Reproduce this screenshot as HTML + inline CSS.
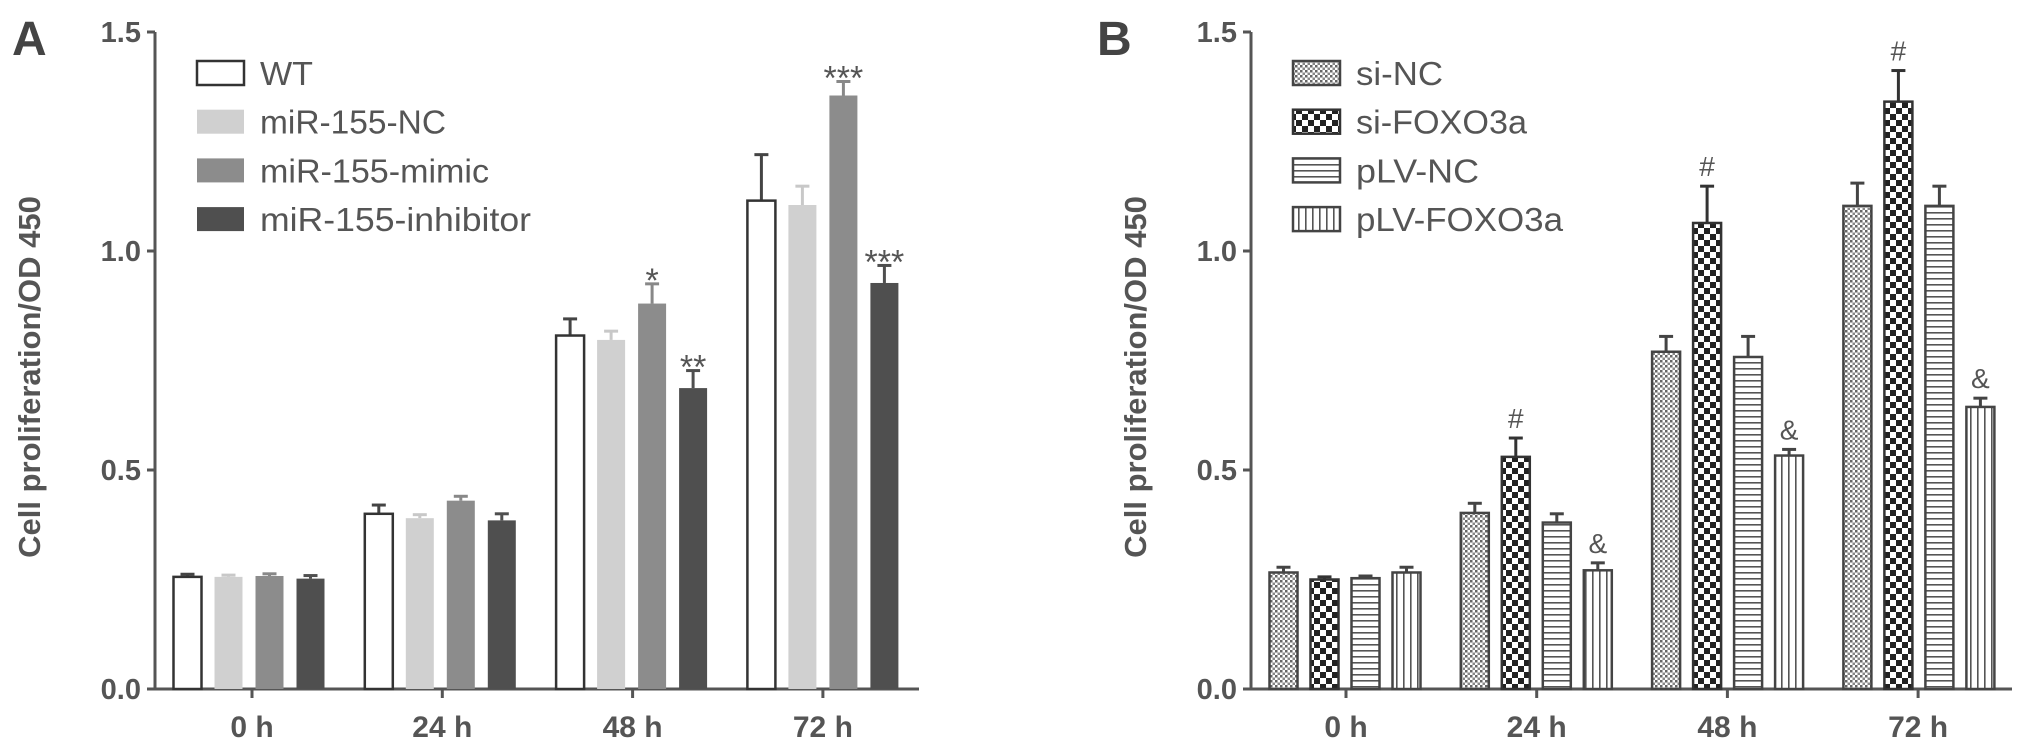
<!DOCTYPE html>
<html><head><meta charset="utf-8"><style>
html,body{margin:0;padding:0;background:#fff;}
svg{display:block;font-family:"Liberation Sans",Arial,sans-serif;}
</style></head><body>
<svg id="chart" width="2031" height="748" viewBox="0 0 2031 748">
<defs>
<pattern id="pFine" width="5" height="5" patternUnits="userSpaceOnUse"><rect width="5" height="5" fill="#fff"/><rect width="2.5" height="2.5" fill="#666"/><rect x="2.5" y="2.5" width="2.5" height="2.5" fill="#888"/></pattern>
<pattern id="pCheck" width="12" height="12" patternUnits="userSpaceOnUse"><rect width="12" height="12" fill="#fff"/><rect width="6" height="6" fill="#222"/><rect x="6" y="6" width="6" height="6" fill="#222"/></pattern>
<pattern id="pHor" width="6" height="6" patternUnits="userSpaceOnUse"><rect width="6" height="6" fill="#fff"/><rect y="2" width="6" height="1.6" fill="#555"/></pattern>
<pattern id="pVer" width="7" height="7" patternUnits="userSpaceOnUse"><rect width="7" height="7" fill="#fff"/><rect x="3" width="1.6" height="7" fill="#555"/></pattern>
</defs>
<g id="gA"></g>
<g id="gB"></g>
</svg>
<script>
const categories = ["0 h","24 h","48 h","72 h"];
const yTicks = [0.0,0.5,1.0,1.5];
const yTickLabels = ["0.0","0.5","1.0","1.5"];
const seriesA = ["WT","miR-155-NC","miR-155-mimic","miR-155-inhibitor"];
const wtVals = [0.256,0.40,0.807,1.115];
const ncVals = [0.256,0.39,0.797,1.105];
const mimicVals = [0.258,0.43,0.88,1.355];
const inhVals = [0.252,0.385,0.687,0.927];
const wtErr = [0.006,0.02,0.038,0.105];
const ncErr = [0.004,0.008,0.02,0.043];
const mimicErr = [0.005,0.01,0.045,0.032];
const inhErr = [0.007,0.015,0.04,0.04];
const annotA = [[null,null,null,null],[null,null,null,null],[null,null,"*","***"],[null,null,"**","***"]];
const seriesB = ["si-NC","si-FOXO3a","pLV-NC","pLV-FOXO3a"];
const siNCVals = [0.266,0.402,0.77,1.103];
const siFOXOVals = [0.25,0.53,1.064,1.341];
const pLVNCVals = [0.253,0.38,0.758,1.103];
const pLVFOXOVals = [0.266,0.271,0.533,0.644];
const siNCErr = [0.012,0.022,0.035,0.052];
const siFOXOErr = [0.006,0.043,0.084,0.071];
const pLVNCErr = [0.005,0.02,0.047,0.045];
const pLVFOXOErr = [0.012,0.017,0.014,0.02];
const annotB = [[null,null,null,null],[null,"#","#","#"],[null,null,null,null],[null,"&","&","&"]];

const NS="http://www.w3.org/2000/svg";
function mk(parent,tag,attrs,text){const e=document.createElementNS(NS,tag);for(const k in attrs)e.setAttribute(k,attrs[k]);if(text!=null)e.textContent=text;parent.appendChild(e);return e;}
const y0=689, yTop=32, yScale=v=>y0-(v/1.5)*(y0-yTop);
const offs=[-61.5,-20.5,20.5,61.5], bw=28;

function panel(g,cfg){
  const ax=cfg.axisX, xEnd=cfg.xEnd;
  const xCat=i=>cfg.firstCenter+191.3*i;
  let e=mk(g,"line",{x1:ax,y1:yTop,x2:ax,y2:y0+1,stroke:"#555","stroke-width":3});
  
  
  e=mk(g,"line",{x1:ax-1,y1:y0,x2:xEnd,y2:y0,stroke:"#555","stroke-width":3});
  
  
  yTicks.forEach((t,i)=>{
    const y=yScale(t);
    let l=mk(g,"line",{x1:ax-8,y1:y,x2:ax,y2:y,stroke:"#555","stroke-width":3});
    
    
    let tx=mk(g,"text",{x:ax-14,y:y+10,"text-anchor":"end","font-size":29,"font-weight":"bold",fill:"#555"},yTickLabels[i]);
    
    
  });
  categories.forEach((c,i)=>{
    const x=cfg.tickX(i);
    let l=mk(g,"line",{x1:x,y1:y0,x2:x,y2:y0+9,stroke:"#555","stroke-width":3});
    
    
    let tx=mk(g,"text",{x:x,y:737,"text-anchor":"middle","font-size":30,"font-weight":"bold",fill:"#555"},c);
    
    
  });
  let yl=mk(g,"text",{x:0,y:0,transform:`translate(${cfg.ylabX},377) rotate(-90)`,"text-anchor":"middle","font-size":31,"font-weight":"bold",fill:"#555"},"Cell proliferation/OD 450");
  
  
  let pl=mk(g,"text",{x:cfg.letterX,y:55,"font-size":48,"font-weight":"bold",fill:"#444"},cfg.letter);
  
  
  cfg.vals.forEach((arr,s)=>{
    arr.forEach((v,i)=>{
      const cx=xCat(i)+offs[s], yt=yScale(v), ye=yScale(v+cfg.errs[s][i]);
      let el=mk(g,"line",{x1:cx,y1:yt,x2:cx,y2:ye,stroke:cfg.errCol[s],"stroke-width":3});
      
      
      let ec=mk(g,"line",{x1:cx-7,y1:ye,x2:cx+7,y2:ye,stroke:cfg.errCol[s],"stroke-width":3});
      
      
      let r=mk(g,"rect",{x:cx-bw/2,y:yt,width:bw,height:y0-yt,fill:cfg.fill[s],stroke:cfg.stroke[s],"stroke-width":cfg.sw[s]});
      
      
      const a=cfg.annot[s][i];
      if(a){let t=mk(g,"text",{x:cx,y:ye-10,"text-anchor":"middle","font-size":a.startsWith("*")?34:28,fill:"#555"},a);
        
        
        if(a.startsWith("*")) t.setAttribute('y',ye+8);}
    });
  });
  cfg.names.forEach((n,s)=>{
    const ry=73+48.7*s;
    let r=mk(g,"rect",{x:cfg.legX,y:ry-12,width:47,height:24,fill:cfg.fill[s],stroke:cfg.stroke[s],"stroke-width":cfg.sw[s]});
    
    
    let t=mk(g,"text",{x:cfg.legX+63,y:ry+12,"font-size":33,fill:"#555",textLength:cfg.legLen[s],lengthAdjust:"spacingAndGlyphs"},n);
    
    
  });
}
panel(document.getElementById("gA"),{axisX:155,xEnd:919,firstCenter:249,tickX:i=>252+190.3*i,ylabX:40,letter:"A",letterX:12,
  vals:[wtVals,ncVals,mimicVals,inhVals],errs:[wtErr,ncErr,mimicErr,inhErr],annot:annotA,names:seriesA,
  fill:["#fff","#d0d0d0","#8c8c8c","#4f4f4f"],stroke:["#333","#d0d0d0","#8c8c8c","#4f4f4f"],sw:[2.5,0,0,0],
  errCol:["#444","#c8c8c8","#888","#4f4f4f"],legX:197,legLen:[53,186,229,271]});
panel(document.getElementById("gB"),{axisX:1251,xEnd:2012,firstCenter:1345,tickX:i=>1346+190.7*i,ylabX:1146,letter:"B",letterX:1097,
  vals:[siNCVals,siFOXOVals,pLVNCVals,pLVFOXOVals],errs:[siNCErr,siFOXOErr,pLVNCErr,pLVFOXOErr],annot:annotB,names:seriesB,
  fill:["url(#pFine)","url(#pCheck)","url(#pHor)","url(#pVer)"],stroke:["#444","#333","#444","#444"],sw:[2.5,2.5,2.5,2.5],
  errCol:["#444","#333","#444","#444"],legX:1293,legLen:[87,171,123,207]});
</script>
</body></html>
